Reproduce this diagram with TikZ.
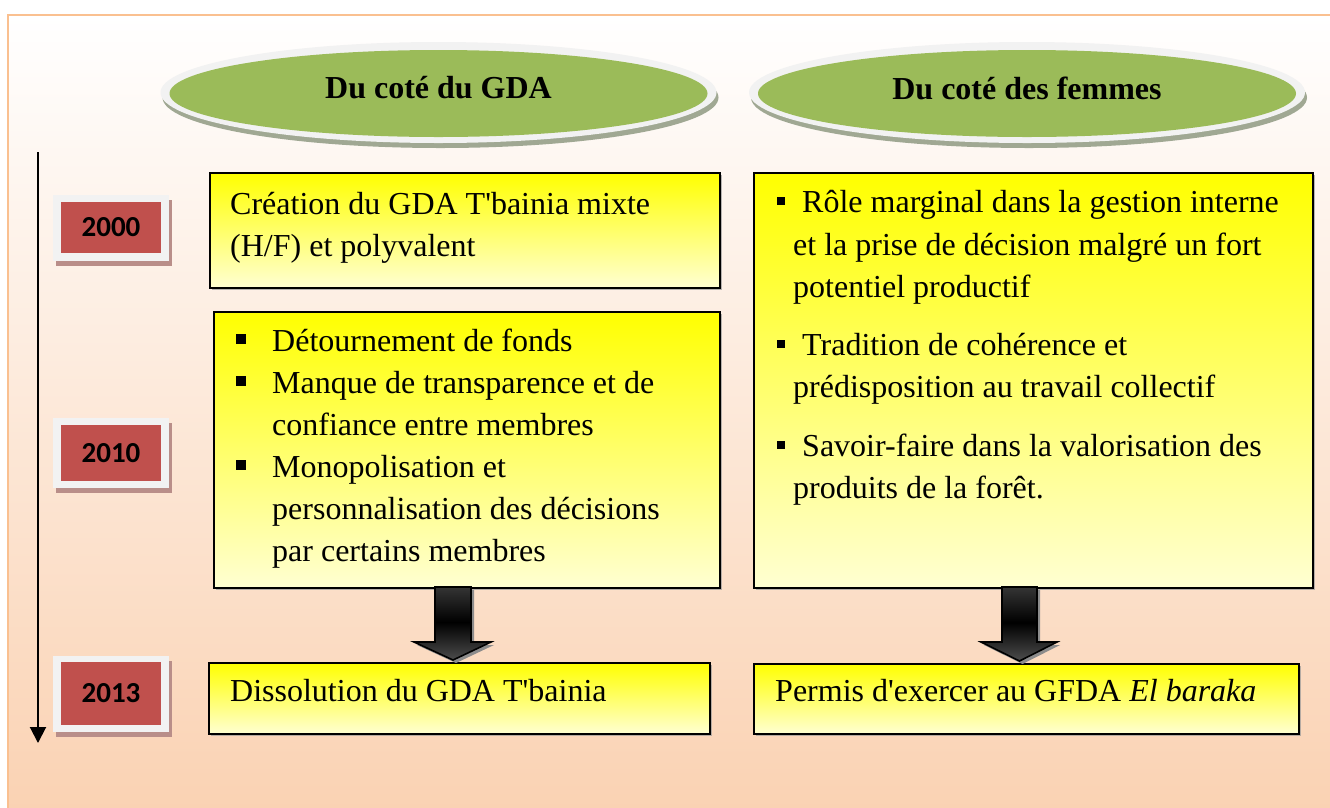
\documentclass[tikz,border=0pt]{standalone}
\usepackage{fontspec}
\setmainfont{Liberation Serif}
\newfontfamily\yearfont{Carlito}
\usetikzlibrary{arrows.meta,shadows,shapes.geometric}
\definecolor{frameline}{HTML}{FAC090}
\definecolor{peach}{HTML}{FAD1B1}
\definecolor{olive}{HTML}{9BBB59}
\definecolor{rimgray}{HTML}{F2F2F2}
\definecolor{ellshadow}{HTML}{A0A893}
\definecolor{yearred}{HTML}{C0504D}
\definecolor{yearshadow}{HTML}{B98E89}
\definecolor{paleyellow}{HTML}{FFFFD2}
\pgfdeclareverticalshading{arrowshade}{100bp}{color(0bp)=(black!62); color(25bp)=(black!70); color(51bp)=(black); color(100bp)=(black!58)}
\newcommand{\apos}{\textquotesingle}
\begin{document}
\begin{tikzpicture}[x=1pt,y=-1pt,
  txt/.style={anchor=base west,inner sep=0pt,font=\fontsize{32}{42}\selectfont},
  hdrtxt/.style={inner sep=0pt,font=\fontsize{32}{42}\selectfont\bfseries},
  yellowbox/.style={draw=black,line width=1.8pt,top color=yellow,bottom color=paleyellow,
    anchor=north west,inner sep=0pt,
    drop shadow={shadow xshift=2pt,shadow yshift=-2pt,fill=black!40,opacity=0.7}},
  rimell/.style={ellipse,fill=rimgray,inner sep=0pt,minimum width=556pt,minimum height=101pt,
    drop shadow={shadow xshift=2pt,shadow yshift=-5pt,fill=ellshadow,opacity=1}},
  greenell/.style={ellipse,fill=olive,inner sep=0pt,minimum width=538pt,minimum height=87pt},
  yearrim/.style={rectangle,fill=rimgray,inner sep=0pt,minimum width=116pt,minimum height=66pt,
    drop shadow={shadow xshift=3pt,shadow yshift=-5pt,fill=yearshadow,opacity=1}},
  yearbox/.style={rectangle,fill=yearred,inner sep=0pt,minimum width=100pt,minimum height=51pt,
    font=\fontsize{29}{30}\selectfont\yearfont\bfseries},
  bulletB/.style={rectangle,fill=black,inner sep=0pt,minimum size=9.5pt},
  bulletD/.style={rectangle,fill=black,inner sep=0pt,minimum size=8pt},
  blockarrow/.style={draw=black,line width=1.6pt,line join=miter,shading=arrowshade,
    drop shadow={shadow xshift=3pt,shadow yshift=-3pt,fill=black!45,opacity=1}}
]
\useasboundingbox (0,0) rectangle (1330,807);
\clip (0,0) rectangle (1330,807);
\fill[white] (0,0) rectangle (1330,807);
% frame with gradient background
\shade[top color=white,bottom color=peach] (8,15) rectangle (1350,830);
\draw[frameline,line width=2.5pt] (8,15) rectangle (1350,830);

% headers
\node[rimell] (rimL) at (438.5,92.5) {};
\node[greenell] (hdrL) at (438.5,93.5) {};
\node[hdrtxt] (hdrLt) at (438.5,88) {Du coté du GDA};
\node[rimell] (rimR) at (1027,92.5) {};
\node[greenell] (hdrR) at (1027,93.5) {};
\node[hdrtxt] (hdrRt) at (1027,88) {Du coté des femmes};

% timeline
\coordinate (tl0) at (38,152);
\coordinate (tl1) at (38,743);
\draw[line width=2pt,-{Triangle[width=16pt,length=16pt]}] (tl0) -- (tl1);

% years
\node[yearrim] (r2000) at (111,227.5) {};
\node[yearbox] (y2000) at (r2000) {2000};
\node[yearrim,minimum height=70pt] (r2010) at (111,453) {};
\node[yearbox,minimum height=56pt] (y2010) at (r2010) {2010};
\node[yearrim,minimum height=76pt] (r2013) at (111,693.5) {};
\node[yearbox,minimum height=63pt] (y2013) at (r2013) {2013};

% yellow boxes
\node[yellowbox,minimum width=510pt,minimum height=115pt] (boxA) at (209,172) {};
\node[yellowbox,minimum width=506pt,minimum height=276pt] (boxB) at (213,311) {};
\node[yellowbox,minimum width=501pt,minimum height=71pt] (boxC) at (208,662) {};
\node[yellowbox,minimum width=559pt,minimum height=415pt] (boxD) at (753,172) {};
\node[yellowbox,minimum width=545pt,minimum height=70pt] (boxE) at (753,663) {};

% block arrows
\path[blockarrow] (435,587) -- (471,587) -- (471,642) -- (491,642) -- (453,660)
  -- (414,642) -- (435,642) -- cycle;
\path[blockarrow] (1002,587) -- (1037,587) -- (1037,642) -- (1057,642) -- (1019.5,661)
  -- (981,642) -- (1002,642) -- cycle;

% box A text
\node[txt] (a1) at (230,214) {Création du GDA T\apos bainia mixte};
\node[txt] (a2) at (230,256) {(H/F) et polyvalent};

% box B text
\node[bulletB] (bb1) at (241,339) {};
\node[txt] (b1) at (272,351) {Détournement de fonds};
\node[bulletB] (bb2) at (241,381) {};
\node[txt] (b2) at (272,393) {Manque de transparence et de};
\node[txt] (b3) at (272,435) {confiance entre membres};
\node[bulletB] (bb3) at (241,465) {};
\node[txt] (b4) at (272,477) {Monopolisation et};
\node[txt] (b5) at (272,519) {personnalisation des décisions};
\node[txt] (b6) at (272,561) {par certains membres};

% box C text
\node[txt] (c1) at (230,701) {Dissolution du GDA T\apos bainia};

% box D text
\node[bulletD] (db1) at (781,201) {};
\node[txt] (d1) at (802,212) {Rôle marginal dans la gestion interne};
\node[txt] (d2) at (793,255) {et la prise de décision malgré un fort};
\node[txt] (d3) at (793,297) {potentiel productif};
\node[bulletD] (db2) at (781,344) {};
\node[txt] (d4) at (802,355) {Tradition de cohérence et};
\node[txt] (d5) at (793,397) {prédisposition au travail collectif};
\node[bulletD] (db3) at (781,445) {};
\node[txt] (d6) at (802,456) {Savoir-faire dans la valorisation des};
\node[txt] (d7) at (793,498) {produits de la forêt.};

% box E text
\node[txt] (e1) at (775,701) {Permis d\apos exercer au GFDA \textit{El baraka}};
\end{tikzpicture}
\end{document}
